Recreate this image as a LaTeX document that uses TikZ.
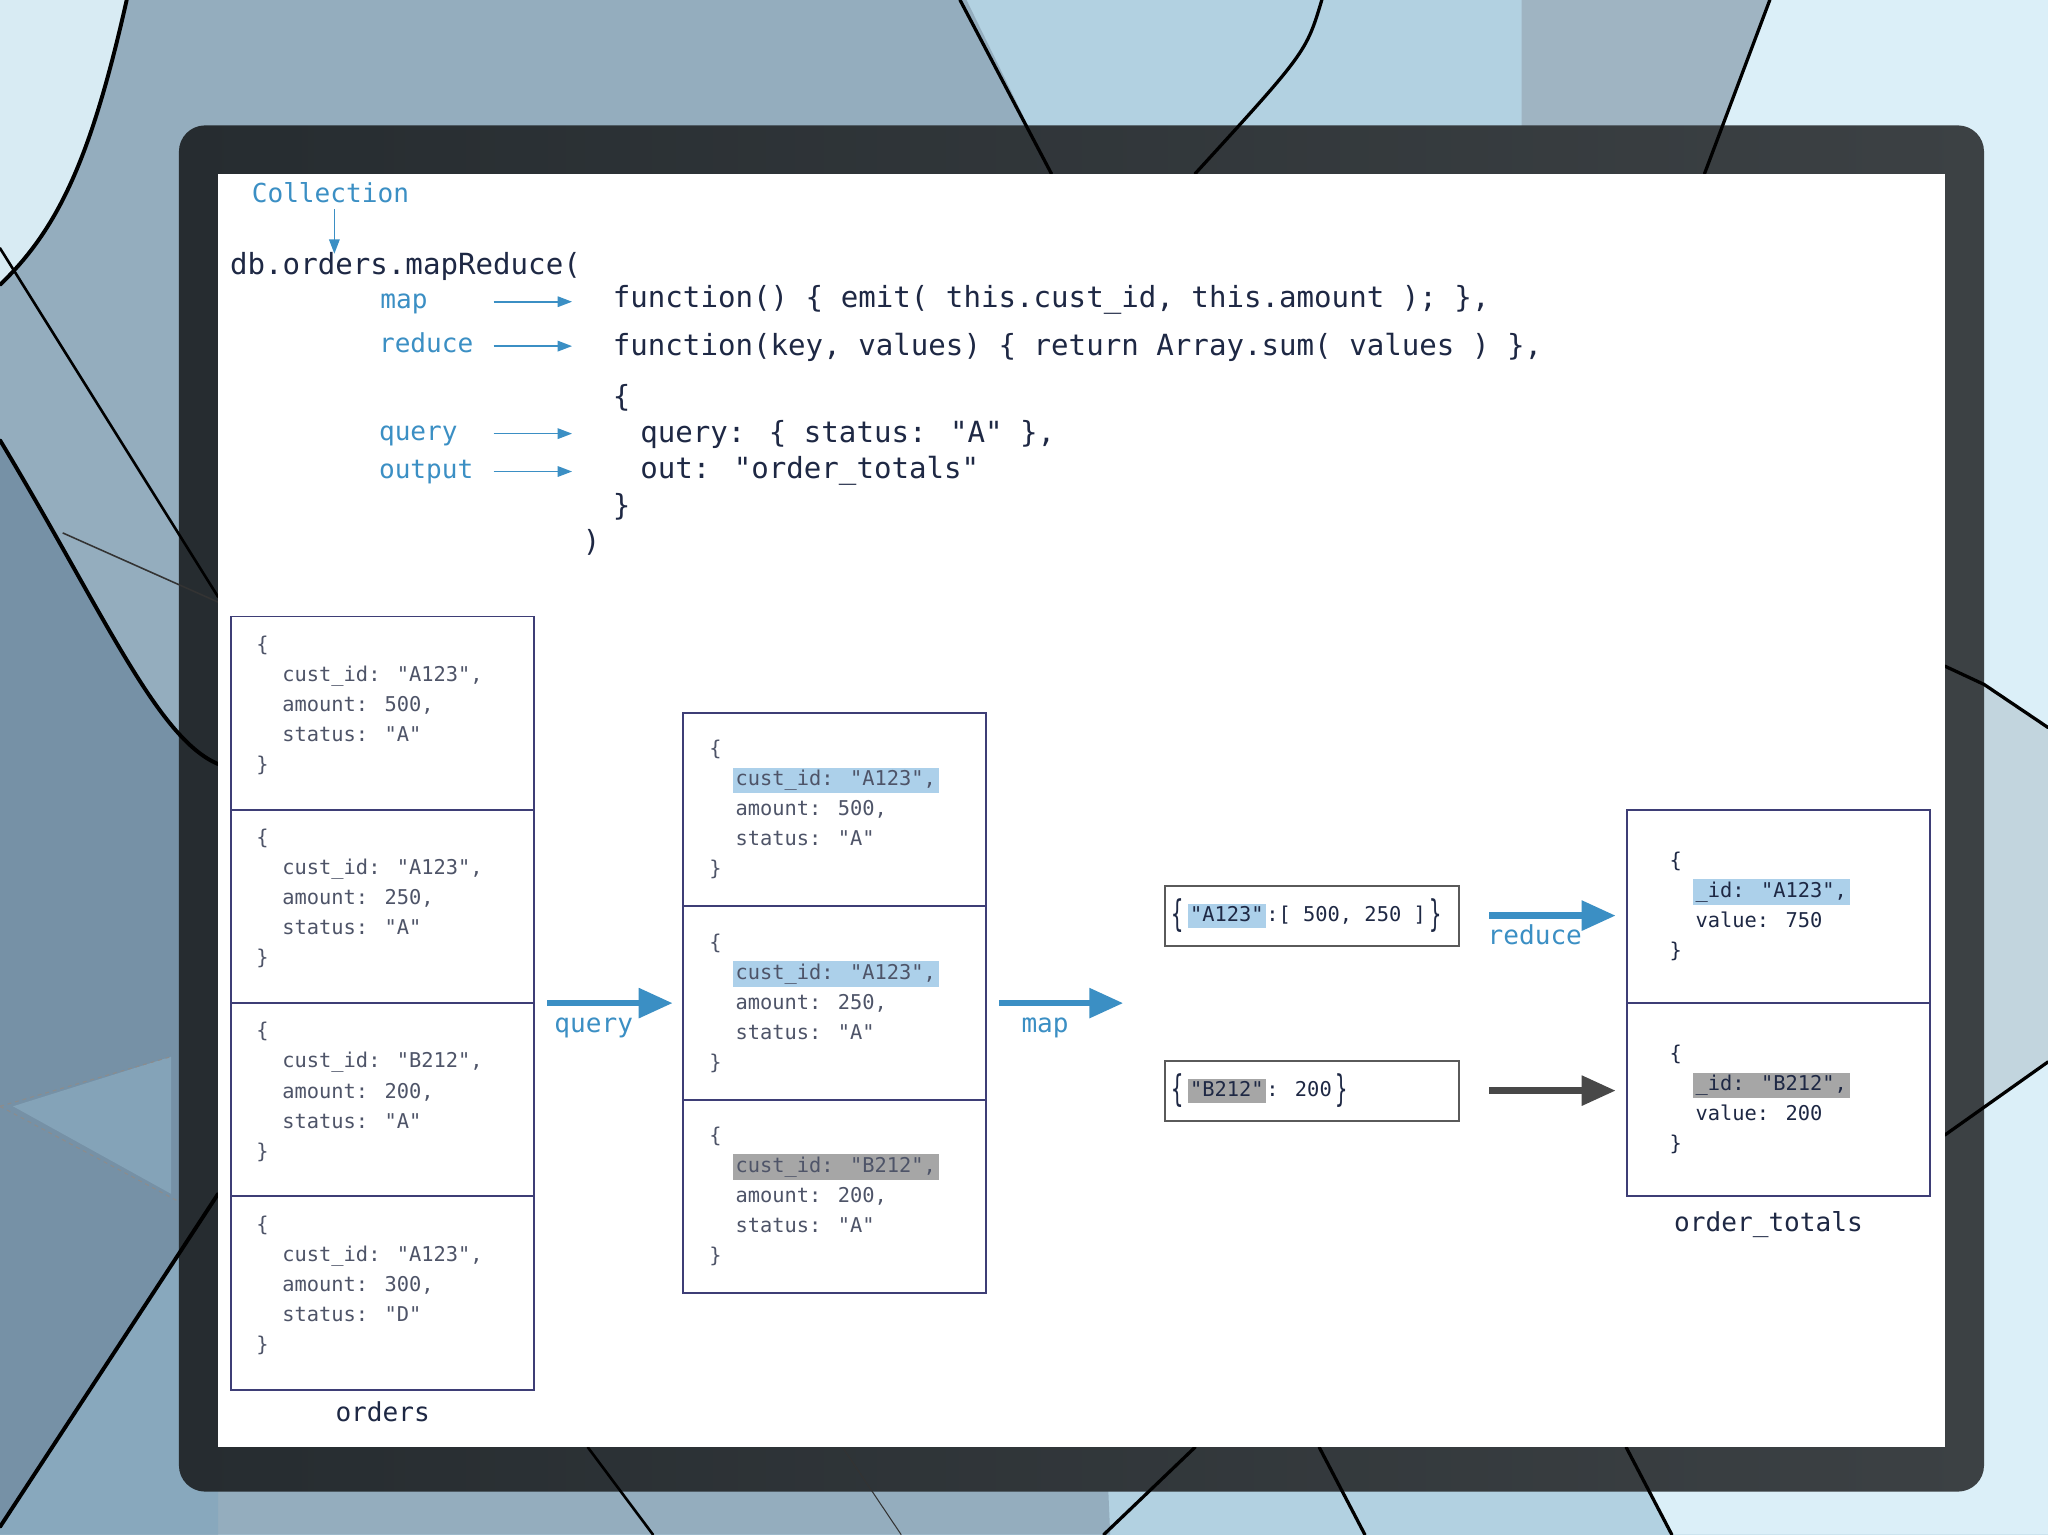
\documentclass[tikz,border=0pt]{standalone}
\usepackage{fontspec}
\usepackage{graphicx}
\usetikzlibrary{arrows.meta,positioning}
\newfontfamily\codefont{DejaVu Sans Mono}

\definecolor{arrowblue}{RGB}{59,143,196}
\definecolor{hlblue}{RGB}{172,208,234}
\definecolor{hlgray}{RGB}{166,166,166}
\definecolor{codecol}{RGB}{30,40,68}
\definecolor{doccol}{RGB}{78,84,104}
\definecolor{boxline}{RGB}{62,62,118}
\definecolor{pairline}{RGB}{90,90,90}
\definecolor{darkarrow}{RGB}{72,72,72}
\definecolor{panelL}{RGB}{38,44,48}
\definecolor{panelR}{RGB}{60,65,68}

\newcommand\ind{\hspace*{20pt}}
\newcommand\hlb[1]{{\setlength\fboxsep{2pt}\colorbox{hlblue}{\vphantom{Ag}#1}}}
\newcommand\hlg[1]{{\setlength\fboxsep{2pt}\colorbox{hlgray}{\vphantom{Ag}#1}}}
\newcommand\tallbrace[1]{\raisebox{-4pt}{\scalebox{1}[1.8]{#1}}}

\tikzset{
  codeline/.style={font=\codefont\fontsize{22.3}{26}\selectfont, text=codecol, anchor=west, inner sep=0pt, text height=16pt, text depth=5pt},
  bluelbl/.style={font=\codefont\fontsize{20}{24}\selectfont, text=arrowblue, inner sep=0pt, text height=15pt, text depth=5pt},
  namelbl/.style={bluelbl, text=codecol},
  doctext/.style={font=\codefont\fontsize{15.6}{23}\selectfont, text=doccol, align=left, anchor=west, inner sep=0pt},
  docsec/.style={draw=boxline, line width=1.5pt, minimum width=232pt, minimum height=148pt, inner sep=0pt, outer sep=0pt},
  pairbox/.style={draw=pairline, line width=1.5pt, minimum width=225pt, minimum height=46pt, inner sep=0pt, outer sep=0pt},
  bigarrow/.style={line width=5pt, draw=arrowblue, -{Triangle[length=26pt,width=22pt]}},
  grayarrow/.style={bigarrow, draw=darkarrow},
  thinarrow/.style={line width=1.3pt, draw=arrowblue, -{Triangle[length=11pt,width=8pt]}},
  crack/.style={line width=3pt, black, line cap=round},
  thincrack/.style={line width=1.2pt, black!80}
}

\begin{document}
\begin{tikzpicture}[x=1pt, y=-1pt]
\useasboundingbox (0,0) rectangle (1568,1175);

% background
\fill[color={rgb,255:red,178;green,209;blue,225}] (0,0) rectangle (1568,1175);
\fill[color={rgb,255:red,148;green,173;blue,190}] (97,0) -- (740,0) -- (805,133) -- (850,1175) -- (0,1175) -- (0,218) .. controls (45,175) and (70,120) .. (97,0);
\fill[color={rgb,255:red,216;green,235;blue,243}] (0,0) -- (97,0) .. controls (70,120) and (45,175) .. (0,218) -- cycle;
\fill[color={rgb,255:red,118;green,145;blue,166}] (0,337) .. controls (80,470) and (120,565) .. (167,585) -- (167,914) -- (0,1169) -- cycle;
\fill[color={rgb,255:red,136;green,168;blue,189}] (0,1169) -- (167,914) -- (167,1175) -- (0,1175) -- cycle;
\fill[color={rgb,255:red,132;green,163;blue,184}] (10,847) -- (131,809) -- (131,914) -- cycle;
\fill[color={rgb,255:red,159;green,180;blue,194}] (1165,0) -- (1355,0) -- (1305,133) -- (1165,133) -- cycle;
\fill[color={rgb,255:red,219;green,239;blue,248}] (1355,0) -- (1568,0) -- (1568,1175) -- (1280,1175) -- (1245,1108) -- (1305,133) -- cycle;
\fill[color={rgb,255:red,194;green,213;blue,222}] (1519,524) -- (1568,557) -- (1568,813) -- (1519,848) -- cycle;

% panel
\shade[left color=panelL, right color=panelR, rounded corners=20pt] (137,96) rectangle (1519,1142);

% cracks
\draw[crack] (97,0) .. controls (70,120) and (45,175) .. (0,218);
\draw[crack, line width=2pt] (0,190) -- (167,457);
\draw[thincrack] (48,408) -- (167,461);
\draw[crack] (0,337) .. controls (80,470) and (120,565) .. (167,585);
\draw[crack] (0,1169) -- (167,914);
\draw[thincrack, black!45, line width=0.8pt, dashed] (0,847) -- (131,809);
\draw[thincrack, black!45, line width=0.8pt, dashed] (0,847) -- (137,920);
\draw[crack, line width=2.5pt] (735,0) -- (805,133);
\draw[crack, line width=2.5pt] (1012,0) .. controls (1000,40) .. (915,133);
\draw[crack, line width=2.5pt] (1355,0) -- (1305,133);
\draw[crack, line width=2.5pt] (1489,510) -- (1519,524) -- (1568,557);
\draw[crack, line width=2.5pt] (1489,869) -- (1568,813);
\draw[crack, line width=2pt] (450,1108) -- (500,1175);
\draw[thincrack, line width=0.8pt] (645,1108) -- (690,1175);
\draw[crack, line width=2.5pt] (915,1108) -- (845,1175);
\draw[crack, line width=2.5pt] (1010,1108) -- (1045,1175);
\draw[crack, line width=2.5pt] (1245,1108) -- (1280,1175);

\fill[white] (167,133) rectangle (1489,1108);

% the call
\node[bluelbl] (collLbl) at (253,150) {Collection};
\node[codeline] (db) at (176,205) {db.orders.mapReduce(};
\draw[thinarrow] (collLbl.south -| 256,0) -- (db.north -| 256,0);

\node[bluelbl, anchor=west] (mapLbl) at (291,231) {map};
\node[bluelbl, anchor=west] (reduceLbl) at (290,265) {reduce};
\node[bluelbl, anchor=west] (queryLbl) at (290,332) {query};
\node[bluelbl, anchor=west] (outputLbl) at (290,361) {output};

\node[codeline] (mapCode) at (469,230) {function() \{ emit( this.cust\_id, this.amount ); \},};
\node[codeline] (reduceCode) at (469,267) {function(key, values) \{ return Array.sum( values ) \},};
\node[codeline] (optOpen) at (469,306) {\{};
\node[codeline] (queryCode) at (490,333) {query: \{ status: "A" \},};
\node[codeline] (outCode) at (490,361) {out: "order\_totals"};
\node[codeline] (optClose) at (469,389) {\}};
\node[codeline] (dbClose) at (446,417) {)};

\coordinate (arrL) at (378,0);
\coordinate (arrR) at (438,0);
\foreach \l in {mapLbl, reduceLbl, queryLbl, outputLbl}
  \draw[thinarrow] (\l -| arrL) -- (\l -| arrR);

% orders
\node[docsec] (o1) at (293,546) {};
\node[docsec, below=0pt of o1] (o2) {};
\node[docsec, below=0pt of o2] (o3) {};
\node[docsec, below=0pt of o3] (o4) {};
\node[doctext] (o1t) at ([xshift=19pt, yshift=6pt]o1.west) {\{\\\ind cust\_id: "A123",\\\ind amount: 500,\\\ind status: "A"\\\}};
\node[doctext] (o2t) at ([xshift=19pt, yshift=6pt]o2.west) {\{\\\ind cust\_id: "A123",\\\ind amount: 250,\\\ind status: "A"\\\}};
\node[doctext] (o3t) at ([xshift=19pt, yshift=6pt]o3.west) {\{\\\ind cust\_id: "B212",\\\ind amount: 200,\\\ind status: "A"\\\}};
\node[doctext] (o4t) at ([xshift=19pt, yshift=6pt]o4.west) {\{\\\ind cust\_id: "A123",\\\ind amount: 300,\\\ind status: "D"\\\}};
\node[namelbl, below=9pt of o4] (ordersLbl) {orders};

% query result
\node[docsec] (m1) at (639,620) {};
\node[docsec, below=0pt of m1] (m2) {};
\node[docsec, below=0pt of m2] (m3) {};
\node[doctext] (m1t) at ([xshift=20pt]m1.west) {\{\\\ind\hspace*{-2pt}\hlb{cust\_id: "A123",}\\\ind amount: 500,\\\ind status: "A"\\\}};
\node[doctext] (m2t) at ([xshift=20pt]m2.west) {\{\\\ind\hspace*{-2pt}\hlb{cust\_id: "A123",}\\\ind amount: 250,\\\ind status: "A"\\\}};
\node[doctext] (m3t) at ([xshift=20pt]m3.west) {\{\\\ind\hspace*{-2pt}\hlg{cust\_id: "B212",}\\\ind amount: 200,\\\ind status: "A"\\\}};

\draw[bigarrow, shorten <=10pt, shorten >=8pt] (o2.south east) -- (m2.west)
  node[bluelbl, pos=0.4, below=5pt] (queryArr) {query};

% key / values
\node[pairbox] (p1) at (1004.5,701) {};
\node[pairbox] (p2) at (1004.5,835) {};
\node[doctext, text=codecol] (p1t) at ([xshift=5pt]p1.west) {\tallbrace{\{}\,\hlb{"A123"}:[ 500, 250 ]\,\tallbrace{\}}};
\node[doctext, text=codecol] (p2t) at ([xshift=5pt]p2.west) {\tallbrace{\{}\,\hlg{"B212"}: 200\,\tallbrace{\}}};

\coordinate (mapEnd) at (860,768);
\draw[bigarrow, shorten <=10pt] (m2.east) -- (mapEnd)
  node[bluelbl, pos=0.43, below=5pt] (mapArr) {map};

% order_totals
\node[docsec] (t1) at (1362,694) {};
\node[docsec, below=0pt of t1] (t2) {};
\node[doctext, text=codecol] (t1t) at ([xshift=32pt]t1.west) {\{\\\ind\hspace*{-2pt}\hlb{\_id: "A123",}\\\ind value: 750\\\}};
\node[doctext, text=codecol] (t2t) at ([xshift=32pt]t2.west) {\{\\\ind\hspace*{-2pt}\hlg{\_id: "B212",}\\\ind value: 200\\\}};
\node[namelbl, below=12pt of t2, xshift=-8pt] (totalsLbl) {order\_totals};

\draw[bigarrow, shorten <=23pt, shorten >=9pt] (p1.east) -- (p1.east -| t1.west)
  node[bluelbl, pos=0.45, below=5pt] (reduceArr) {reduce};
\draw[grayarrow, shorten <=23pt, shorten >=9pt] (p2.east) -- (p2.east -| t2.west);
\end{tikzpicture}
\end{document}
